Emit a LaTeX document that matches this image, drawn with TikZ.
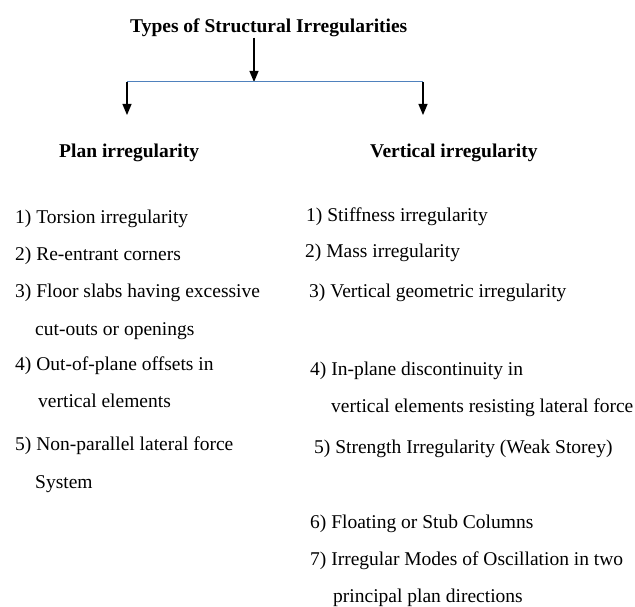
\documentclass[tikz,border=0pt]{standalone}
\usepackage{fontspec}
\setmainfont{Liberation Serif}
\usepackage{xcolor}
\usetikzlibrary{arrows.meta}
\definecolor{branchblue}{RGB}{79,129,189}

\begin{document}
\begin{tikzpicture}[x=1pt,y=-1pt,
    item/.style={anchor=base west, inner sep=0pt, font=\fontsize{19.5}{22}\selectfont},
    head/.style={anchor=base west, inner sep=0pt, font=\fontsize{19.5}{22}\selectfont\bfseries},
    down/.style={-{Triangle[length=11pt,width=9pt]}, line width=1.2pt}]
    \useasboundingbox (0,0) rectangle (635,607);

    % Title and branching
    \node[head] (title) at (130,33) {Types of Structural Irregularities};
    \coordinate (split) at (254,82);
    \coordinate (lc) at (127,82);
    \coordinate (rc) at (423,82);
    \coordinate (lend) at (127,115);
    \coordinate (rend) at (423,115);
    \draw[down] (split |- title.south) -- (split);
    \draw[branchblue, line width=1pt] (lc) -- (rc);
    \draw[down] (lc) -- (lend);
    \draw[down] (rc) -- (rend);

    % Column headings
    \node[head] (plan) at (59,158) {Plan irregularity};
    \node[head] (vert) at (370,158) {Vertical irregularity};

    % Plan irregularity items
    \node[item] (p1) at (15,223) {1) Torsion irregularity};
    \node[item] (p2) at (15,260) {2) Re-entrant corners};
    \node[item] (p3) at (15,297) {3) Floor slabs having excessive};
    \node[item] (p3b) at (35,335) {cut-outs or openings};
    \node[item] (p4) at (15,370) {4) Out-of-plane offsets in};
    \node[item] (p4b) at (38,407) {vertical elements};
    \node[item] (p5) at (15,450) {5) Non-parallel lateral force};
    \node[item] (p5b) at (35,488) {System};

    % Vertical irregularity items
    \node[item] (v1) at (306,222) {1) Stiffness irregularity};
    \node[item] (v2) at (305,258) {2) Mass irregularity};
    \node[item] (v3) at (309,297) {3) Vertical geometric irregularity};
    \node[item] (v4) at (310,375) {4) In-plane discontinuity in};
    \node[item] (v4b) at (331,412) {vertical elements resisting lateral force};
    \node[item] (v5) at (314,453) {5) Strength Irregularity (Weak Storey)};
    \node[item] (v6) at (310,528) {6) Floating or Stub Columns};
    \node[item] (v7) at (310,565) {7) Irregular Modes of Oscillation in two};
    \node[item] (v7b) at (333,602) {principal plan directions};

\end{tikzpicture}
\end{document}
